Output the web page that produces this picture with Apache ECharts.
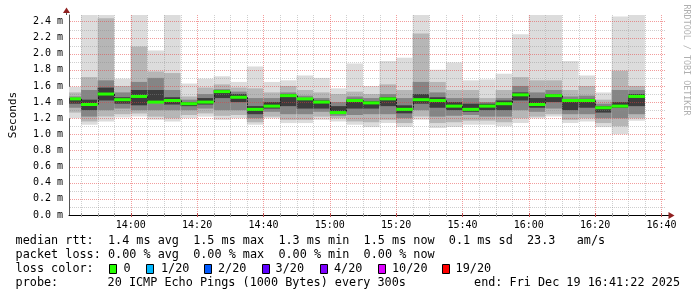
<!DOCTYPE html>
<html><head><meta charset="utf-8">
<script src="https://cdn.jsdelivr.net/npm/echarts@6/dist/echarts.min.js"></script>
<style>html,body{margin:0;padding:0;background:#fff}#c{width:697px;height:297px}</style>
</head><body><div id="c"></div>
<script>
// ---- data (ms) ----
const barStarts = ['13:40','13:45','13:50','13:55','14:00','14:05','14:10','14:15','14:20','14:25',
  '14:30','14:35','14:40','14:45','14:50','14:55','15:00','15:05','15:10','15:15',
  '15:20','15:25','15:30','15:35','15:40','15:45','15:50','15:55','16:00','16:05',
  '16:10','16:15','16:20','16:25','16:30'];
const median  = [1.44,1.37,1.50,1.43,1.47,1.40,1.42,1.38,1.40,1.53,1.46,1.31,1.35,1.48,1.44,1.40,1.27,1.42,1.39,1.44,1.31,1.43,1.42,1.35,1.31,1.35,1.38,1.49,1.37,1.48,1.42,1.42,1.33,1.35,1.47];
const pingMin = [1.20,1.12,1.16,1.21,1.22,1.18,1.16,1.20,1.22,1.18,1.20,1.12,1.20,1.14,1.14,1.18,1.16,1.12,1.09,1.14,1.09,1.18,1.08,1.09,1.12,1.12,1.10,1.14,1.20,1.22,1.14,1.16,1.09,1.00,1.17];
const pingMax = [1.59,2.60,2.60,1.69,2.60,2.04,2.60,1.63,1.69,1.72,1.65,1.84,1.65,1.67,1.73,1.70,1.57,1.88,1.60,1.91,1.95,2.60,1.80,1.89,1.67,1.68,1.75,2.24,2.60,2.60,1.91,1.73,1.52,2.46,2.60];
const band2Lo = [1.27,1.16,1.22,1.25,1.26,1.22,1.20,1.24,1.26,1.23,1.24,1.15,1.22,1.18,1.18,1.22,1.20,1.16,1.15,1.18,1.14,1.22,1.14,1.15,1.17,1.17,1.15,1.20,1.22,1.25,1.18,1.20,1.14,1.10,1.20];
const band2Hi = [1.52,1.71,2.44,1.60,2.09,1.78,1.76,1.47,1.58,1.62,1.58,1.57,1.52,1.60,1.55,1.52,1.50,1.53,1.50,1.62,1.55,2.25,1.65,1.55,1.55,1.45,1.55,1.71,1.67,1.67,1.55,1.60,1.43,1.79,1.60];
const band3Lo = [1.33,1.22,1.30,1.32,1.30,1.30,1.30,1.30,1.32,1.30,1.30,1.20,1.28,1.25,1.25,1.28,1.23,1.24,1.25,1.25,1.20,1.30,1.22,1.23,1.24,1.22,1.22,1.30,1.28,1.32,1.25,1.25,1.20,1.20,1.25];
const band3Hi = [1.47,1.55,1.67,1.52,1.65,1.70,1.55,1.43,1.50,1.56,1.53,1.45,1.45,1.52,1.48,1.45,1.40,1.47,1.45,1.50,1.45,1.65,1.52,1.45,1.45,1.40,1.45,1.60,1.52,1.55,1.47,1.48,1.38,1.55,1.55];
const band4Lo = [1.38,1.30,1.42,1.38,1.36,1.40,1.37,1.35,1.37,1.45,1.40,1.25,1.32,1.35,1.32,1.32,1.27,1.32,1.32,1.35,1.26,1.38,1.33,1.30,1.28,1.30,1.30,1.42,1.33,1.40,1.30,1.33,1.27,1.33,1.35];
const band4Hi = [1.45,1.43,1.58,1.46,1.55,1.55,1.46,1.40,1.45,1.55,1.50,1.35,1.40,1.50,1.45,1.42,1.35,1.44,1.41,1.46,1.36,1.50,1.46,1.40,1.38,1.38,1.42,1.52,1.45,1.50,1.43,1.44,1.35,1.40,1.50];
const xTickLabels = ['14:00','14:20','14:40','15:00','15:20','15:40','16:00','16:20','16:40'];
const yTickLabels = [0.0,0.2,0.4,0.6,0.8,1.0,1.2,1.4,1.6,1.8,2.0,2.2,2.4];
const lossLabels = ['0','1/20','2/20','3/20','4/20','10/20','19/20'];
const lossColors = ['#26ff00','#00b8ff','#0059ff','#5e00ff','#7e00ff','#dd00ff','#ff0000'];

// ---- setup ----
function toMin(s){const p=s.split(':');return (+p[0])*60+(+p[1]);}
function fmt(m){m=Math.round(m);const h=Math.floor(m/60),mm=m%60;return (h<10?'0':'')+h+':'+(mm<10?'0':'')+mm;}
const X_MIN = toMin('13:41')+22/60, X_MAX = toMin('16:41')+22/60, STEP = 5, Y_MAX = 2.48;
const FONT = '"DejaVu Sans Mono", monospace';
const smokeData = barStarts.map((s,i)=>[toMin(s), toMin(s)+STEP, i]);
const bands = [[pingMin,pingMax,'#dcdcdc'],[band2Lo,band2Hi,'#b6b6b6'],[band3Lo,band3Hi,'#858585'],[band4Lo,band4Hi,'#3c3c3c']];

const chart = echarts.init(document.getElementById('c'));
function csRect(cs){return {x:cs.x,y:cs.y,width:cs.width,height:cs.height};}

const legendGraphics = [];
function txt(x,y,s,opts){opts=opts||{};legendGraphics.push({type:'text',x:x,y:y,rotation:opts.rot||0,silent:true,
  style:{text:s,font:(opts.size||11.8)+'px '+FONT,fill:opts.fill||'#000',textAlign:opts.align||'left',align:opts.align||'left',textVerticalAlign:'middle',verticalAlign:'middle'}});}
txt(15.6,241,'median rtt:  1.4 ms avg  1.5 ms max  1.3 ms min  1.5 ms now  0.1 ms sd  23.3   am/s');
txt(15.6,255,'packet loss: 0.00 % avg  0.00 % max  0.00 % min  0.00 % now');
txt(15.6,269,'loss color:');
const boxX=[109,146,204,262,320,378,442], labX=[123.5,161,218,275.6,334,392,455.6];
lossLabels.forEach((l,i)=>{
  legendGraphics.push({type:'rect',silent:true,shape:{x:boxX[i]+0.5,y:264.5,width:7,height:9},style:{fill:lossColors[i],stroke:'#000',lineWidth:1}});
  txt(labX[i],269,l);
});
txt(15.6,283,'probe:');
txt(107.6,283,'20 ICMP Echo Pings (1000 Bytes) every 300s');
txt(680,283,'end: Fri Dec 19 16:41:22 2025',{align:'right'});
txt(686,60,'RRDTOOL / TOBI OETIKER',{size:8.4,fill:'#b0b0b0',align:'center',rot:-Math.PI/2});
// axis extensions & arrows
legendGraphics.push({type:'line',silent:true,shape:{x1:66.5,y1:15,x2:66.5,y2:11},style:{stroke:'#555',lineWidth:1}});
legendGraphics.push({type:'polygon',silent:true,shape:{points:[[66.5,7.5],[63,13],[70,13]]},style:{fill:'#902020'}});
legendGraphics.push({type:'line',silent:true,shape:{x1:666,y1:215.5,x2:670,y2:215.5},style:{stroke:'#000',lineWidth:1}});
legendGraphics.push({type:'polygon',silent:true,shape:{points:[[674.5,215.5],[668.5,212],[668.5,219]]},style:{fill:'#902020'}});

chart.setOption({
  animation:false,
  backgroundColor:'#fff',
  grid:{left:66,right:31,top:15,bottom:82,containLabel:false},
  xAxis:{type:'value',min:X_MIN,max:X_MAX,
    axisLine:{show:true,lineStyle:{color:'#000',width:1}},axisTick:{show:false},splitLine:{show:false},
    axisLabel:{customValues:xTickLabels.map(toMin),formatter:v=>fmt(v),margin:5,fontFamily:FONT,fontSize:10,color:'#000'}},
  yAxis:{type:'value',min:0,max:Y_MAX,name:'Seconds',nameLocation:'middle',nameGap:50,nameRotate:90,
    nameTextStyle:{fontFamily:FONT,fontSize:11,color:'#000'},
    axisLine:{show:true,lineStyle:{color:'#555',width:1}},axisTick:{show:false},splitLine:{show:false},
    axisLabel:{customValues:yTickLabels,formatter:v=>v.toFixed(1)+' m',margin:6,fontFamily:FONT,fontSize:10,color:'#000'}},
  graphic:legendGraphics,
  series:[
    {type:'custom',name:'smoke',z:2,data:smokeData,encode:{x:[0,1],y:2},clip:false,silent:true,
      renderItem:function(params,api){
        const i=api.value(2), cs=csRect(params.coordSys);
        const x0=api.coord([api.value(0),0])[0], x1=api.coord([api.value(1),0])[0];
        const ch=[];
        bands.forEach(b=>{
          const yT=api.coord([0,b[1][i]])[1], yB=api.coord([0,b[0][i]])[1];
          const r=echarts.graphic.clipRectByRect({x:x0,y:yT,width:x1-x0,height:yB-yT},cs);
          if(r) ch.push({type:'rect',shape:r,style:{fill:b[2]}});
        });
        return {type:'group',children:ch};
      }},
    {type:'custom',name:'grid',z:3,data:[[X_MIN,0]],clip:false,silent:true,
      renderItem:function(params,api){
        const cs=params.coordSys, top=cs.y, bot=cs.y+cs.height, left=cs.x, right=cs.x+cs.width;
        const ch=[];
        for(let m=Math.ceil(X_MIN/5)*5;m<X_MAX;m+=5){
          const x=Math.round(api.coord([m,0])[0])+0.5, major=(m%20===0);
          ch.push({type:'line',shape:{x1:x,y1:top,x2:x,y2:bot},style:{stroke:major?'rgba(230,60,60,0.5)':'rgba(140,140,140,0.42)',lineWidth:1,lineDash:[1,1]}});
          ch.push({type:'line',shape:{x1:x,y1:bot-2,x2:x,y2:bot+2},style:{stroke:major?'#c05050':'#a0a0a0',lineWidth:1}});
        }
        for(let k=1;k*0.1<Y_MAX;k++){
          const y=Math.round(api.coord([0,k*0.1])[1])+0.5, major=(k%2===0);
          ch.push({type:'line',shape:{x1:left+1,y1:y,x2:right,y2:y},style:{stroke:major?'rgba(230,60,60,0.5)':'rgba(140,140,140,0.42)',lineWidth:1,lineDash:[1,1]}});
        }
        return {type:'group',children:ch};
      }},
    {type:'custom',name:'median',z:4,data:smokeData,encode:{x:[0,1],y:2},clip:false,silent:true,
      renderItem:function(params,api){
        const i=api.value(2), cs=params.coordSys;
        let x0=api.coord([api.value(0),0])[0]; const x1=api.coord([api.value(1),0])[0];
        x0=Math.max(x0,cs.x+1);
        const y=api.coord([0,median[i]])[1];
        const ch=[];
        if(i>0){
          const yp=api.coord([0,median[i-1]])[1];
          const xc=Math.round(x0)+0.5;
          ch.push({type:'line',shape:{x1:xc,y1:Math.min(y,yp),x2:xc,y2:Math.max(y,yp)},style:{stroke:'#202020',lineWidth:1,lineDash:[2,1]}});
        }
        ch.push({type:'rect',shape:{x:x0,y:y-1.5,width:x1-x0,height:3},style:{fill:lossColors[0]}});
        return {type:'group',children:ch};
      }}
  ]
});
</script></body></html>
